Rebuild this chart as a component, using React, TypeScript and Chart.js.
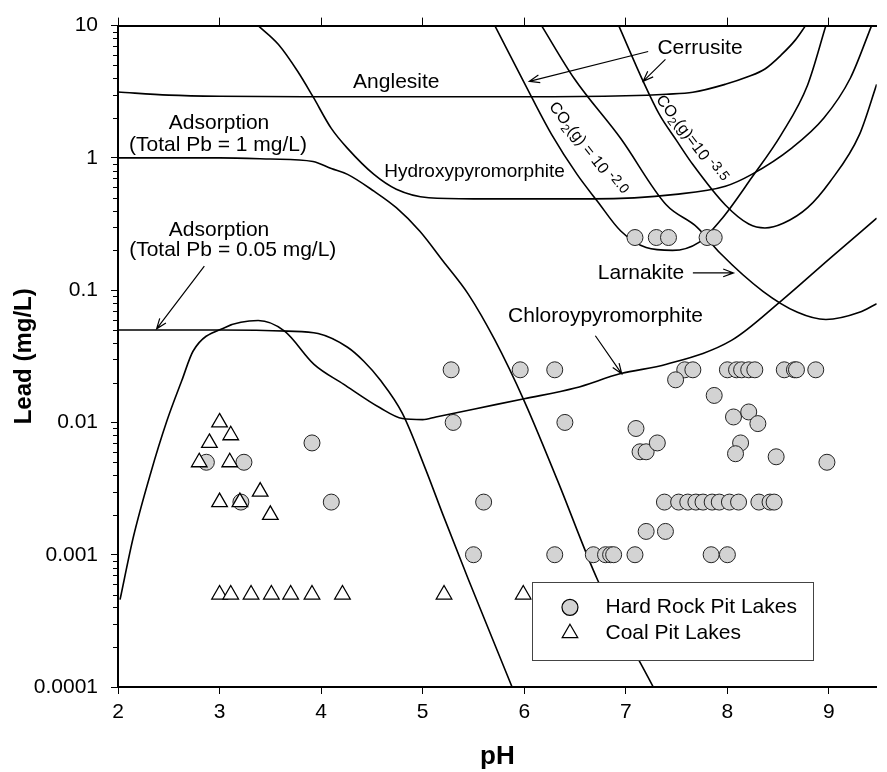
import React, { useEffect, useRef } from 'react';
import { Chart, registerables } from 'chart.js';

Chart.register(...registerables);

const FONT = '"Liberation Sans", Arial, Helvetica, sans-serif';

// ---- axis ticks ----
const xTickValues = [2, 3, 4, 5, 6, 7, 8, 9];
const yTickValues = [0.0001, 0.001, 0.01, 0.1, 1, 10];
const yTickLabels = ['0.0001', '0.001', '0.01', '0.1', '1', '10'];

// ---- observations ----
const hardRockPH = [
  7.09, 7.30, 7.42, 7.80, 7.87,
  5.28, 5.96, 6.30, 7.58, 7.66, 8.00, 8.09, 8.14, 8.21, 8.27, 8.56, 8.66, 8.68, 8.87,
  7.49, 7.87, 8.06, 8.21, 8.30, 7.10, 7.14, 7.20, 7.31, 8.13, 8.08, 8.48, 8.98, 5.30, 6.40,
  5.60, 7.38, 7.52, 7.61, 7.69, 7.76, 7.85, 7.92, 8.02, 8.11, 8.31, 8.42, 8.46,
  7.20, 7.39,
  5.50, 6.30, 6.68, 6.80, 6.85, 6.88, 7.09, 7.84, 8.00,
  2.87, 3.24, 3.91, 3.21, 4.10,
];
const hardRockPb = [
  0.25, 0.25, 0.25, 0.25, 0.25,
  0.025, 0.025, 0.025, 0.025, 0.025, 0.025, 0.025, 0.025, 0.025, 0.025, 0.025, 0.025, 0.025, 0.025,
  0.021, 0.016, 0.011, 0.012, 0.0098, 0.009, 0.006, 0.006, 0.007, 0.007, 0.0058, 0.0055, 0.005, 0.01, 0.01,
  0.0025, 0.0025, 0.0025, 0.0025, 0.0025, 0.0025, 0.0025, 0.0025, 0.0025, 0.0025, 0.0025, 0.0025, 0.0025,
  0.0015, 0.0015,
  0.001, 0.001, 0.001, 0.001, 0.001, 0.001, 0.001, 0.001, 0.001,
  0.005, 0.005, 0.007, 0.0025, 0.0025,
];
const coalPH = [3.0, 3.11, 2.9, 2.8, 3.1, 3.0, 3.2, 3.4, 3.5, 3.0, 3.11, 3.31, 3.51, 3.7, 3.91, 4.21, 5.21, 5.99];
const coalPb = [0.01, 0.008, 0.007, 0.005, 0.005, 0.0025, 0.0025, 0.003, 0.002, 0.0005, 0.0005, 0.0005, 0.0005, 0.0005, 0.0005, 0.0005, 0.0005, 0.0005];

// ---- solubility / adsorption curves ----
const anglesitePH = [2.0, 2.5, 3.0, 4.0, 5.0, 6.0, 7.0, 7.4, 7.66, 7.98, 8.2, 8.37, 8.53, 8.67, 8.77];
const anglesitePb = [3.15, 2.98, 2.92, 2.9, 2.9, 2.9, 2.95, 3.03, 3.13, 3.6, 4.1, 4.7, 6.0, 7.8, 10];

const hydroxyPH = [3.38, 3.58, 3.77, 3.92, 4.1, 4.26, 4.52, 4.74, 5.06, 5.5, 6.0, 6.68, 7.49, 7.98, 8.24, 8.63, 8.95, 9.21, 9.42];
const hydroxyPb = [10, 7.2, 4.5, 2.9, 1.67, 1.18, 0.75, 0.58, 0.5, 0.49, 0.49, 0.49, 0.53, 0.61, 0.75, 1.18, 2.0, 4.0, 10];

const ads1PH = [2.0, 3.0, 3.5, 3.92, 4.1, 4.26, 4.52, 4.74, 4.97, 5.2, 5.45, 5.71, 6.0, 6.33, 6.72, 7.27];
const ads1Pb = [1.0, 1.0, 0.98, 0.94, 0.83, 0.75, 0.56, 0.42, 0.28, 0.166, 0.093, 0.042, 0.0145, 0.0036, 0.00065, 0.0001];

const ads005PH = [2.0, 3.0, 3.67, 3.97, 4.26, 4.42, 4.58, 4.8, 5.03, 5.2, 5.45, 5.88];
const ads005Pb = [0.05, 0.05, 0.049, 0.047, 0.037, 0.029, 0.021, 0.0117, 0.0044, 0.002, 0.00065, 0.0001];

const chloroPH = [2.02, 2.15, 2.32, 2.48, 2.63, 2.74, 3.06, 3.38, 3.64, 3.93, 4.22, 4.58, 4.8, 5.0, 5.13, 5.5, 6.0, 6.5, 6.95, 7.4, 8.04, 8.53, 9.01, 9.47];
const chloroPb = [0.000457, 0.00135, 0.0041, 0.0102, 0.0209, 0.0347, 0.0525, 0.0589, 0.049, 0.0275, 0.0195, 0.0129, 0.0107, 0.0105, 0.011, 0.0126, 0.0151, 0.0182, 0.0234, 0.0275, 0.0417, 0.083, 0.174, 0.35];

const cerrusite2PH = [5.71, 6.07, 6.27, 6.52, 6.72, 6.95, 7.2, 7.46, 7.72, 7.95, 8.24, 8.53, 8.79, 8.97];
const cerrusite2Pb = [10, 2.9, 1.5, 0.75, 0.47, 0.28, 0.21, 0.2, 0.23, 0.35, 0.71, 1.5, 3.56, 10];

const cerrusite35PH = [6.93, 7.17, 7.33, 7.5, 7.66, 7.98, 8.21, 8.37, 8.55, 8.79, 9.01, 9.3, 9.47];
const cerrusite35Pb = [10, 3.8, 2.13, 1.35, 0.89, 0.44, 0.316, 0.295, 0.32, 0.42, 0.66, 1.5, 3.6];

const larnakitePH = [6.17, 6.49, 6.95, 7.4, 7.7, 7.93, 8.35, 8.69, 8.97, 9.3, 9.47];
const larnakitePb = [10, 4.0, 1.4, 0.44, 0.3, 0.19, 0.098, 0.068, 0.06, 0.068, 0.079];

const toPts = (xs: number[], ys: number[]) => xs.map((x, i) => ({ x, y: ys[i] }));

// ---- annotation texts (data coordinates: pH, Pb) ----
const textLabels: { t: string; x: number; y: number; size: number }[] = [
  { t: 'Anglesite', x: 4.74, y: 3.72, size: 21 },
  { t: 'Cerrusite', x: 7.73, y: 6.7, size: 21 },
  { t: 'Adsorption', x: 2.995, y: 1.82, size: 21 },
  { t: '(Total Pb = 1 mg/L)', x: 2.985, y: 1.245, size: 21 },
  { t: 'Adsorption', x: 2.995, y: 0.284, size: 21 },
  { t: '(Total Pb = 0.05 mg/L)', x: 3.13, y: 0.201, size: 21 },
  { t: 'Hydroxypyromorphite', x: 5.51, y: 0.79, size: 19 },
  { t: 'Larnakite', x: 7.15, y: 0.135, size: 21 },
  { t: 'Chloroypyromorphite', x: 6.8, y: 0.0638, size: 21 },
];
const arrowLines: number[][] = [
  [7.22, 6.37, 6.05, 3.79],
  [7.39, 5.55, 7.17, 3.79],
  [2.85, 0.152, 2.38, 0.051],
  [7.66, 0.135, 8.06, 0.135],
  [6.7, 0.0452, 6.96, 0.0233],
];
const co2Labels = [
  { x: 6.62, y: 1.16, angle: 52, mid: '(g) = 10 ', exp: '-2.0' },
  { x: 7.64, y: 1.38, angle: 53, mid: '(g)=10 ', exp: '-3.5' },
];
const legendBox = { x1: 6.073, x2: 8.84, y1: 0.00062, y2: 0.00016 };
const legendRows = [
  { label: 'Hard Rock Pit Lakes', y: 0.0004, shape: 'circle' },
  { label: 'Coal Pit Lakes', y: 0.000255, shape: 'triangle' },
];
const legendMarkerX = 6.45;
const legendTextX = 6.8;

const CIRCLE_FILL = '#d3d3d3';

function drawArrow(ctx: CanvasRenderingContext2D, x1: number, y1: number, x2: number, y2: number) {
  ctx.beginPath();
  ctx.moveTo(x1, y1);
  ctx.lineTo(x2, y2);
  const a = Math.atan2(y2 - y1, x2 - x1);
  const L = 11;
  const w = 0.36;
  ctx.moveTo(x2 - L * Math.cos(a - w), y2 - L * Math.sin(a - w));
  ctx.lineTo(x2, y2);
  ctx.lineTo(x2 - L * Math.cos(a + w), y2 - L * Math.sin(a + w));
  ctx.stroke();
}

const annotationPlugin = {
  id: 'pitLakeAnnotations',
  afterDatasetsDraw(chart: any) {
    const { ctx, chartArea } = chart;
    const xs = chart.scales.x;
    const ys = chart.scales.y;
    const px = (v: number) => xs.getPixelForValue(v);
    const py = (v: number) => ys.getPixelForValue(v);
    ctx.save();

    // minor log ticks on y axis
    ctx.strokeStyle = '#000';
    ctx.lineWidth = 1;
    ctx.beginPath();
    for (let d = -4; d <= 0; d++) {
      for (let k = 2; k <= 9; k++) {
        const yy = Math.round(py(k * Math.pow(10, d))) + 0.5;
        ctx.moveTo(chartArea.left - 5, yy);
        ctx.lineTo(chartArea.left, yy);
      }
    }
    ctx.stroke();

    // text labels
    ctx.fillStyle = '#000';
    ctx.textAlign = 'center';
    ctx.textBaseline = 'middle';
    textLabels.forEach((l) => {
      ctx.font = `${l.size}px ${FONT}`;
      ctx.fillText(l.t, px(l.x), py(l.y));
    });

    // arrows
    ctx.lineWidth = 1.2;
    arrowLines.forEach((a) => drawArrow(ctx, px(a[0]), py(a[1]), px(a[2]), py(a[3])));

    // rotated CO2 labels
    co2Labels.forEach((c) => {
      const parts = [
        { t: 'CO', s: 16, dy: 0 },
        { t: '2', s: 12, dy: 5 },
        { t: c.mid, s: 16, dy: 0 },
        { t: c.exp, s: 14, dy: -4 },
      ];
      let total = 0;
      parts.forEach((p) => {
        ctx.font = `${p.s}px ${FONT}`;
        total += ctx.measureText(p.t).width;
      });
      ctx.save();
      ctx.translate(px(c.x), py(c.y));
      ctx.rotate((c.angle * Math.PI) / 180);
      ctx.textAlign = 'left';
      let cx = -total / 2;
      parts.forEach((p) => {
        ctx.font = `${p.s}px ${FONT}`;
        ctx.fillText(p.t, cx, p.dy);
        cx += ctx.measureText(p.t).width;
      });
      ctx.restore();
    });

    // legend
    const lx1 = px(legendBox.x1);
    const lx2 = px(legendBox.x2);
    const ly1 = py(legendBox.y1);
    const ly2 = py(legendBox.y2);
    ctx.fillStyle = '#fff';
    ctx.fillRect(lx1, ly1, lx2 - lx1, ly2 - ly1);
    ctx.strokeStyle = '#444';
    ctx.lineWidth = 1;
    ctx.strokeRect(Math.round(lx1) + 0.5, Math.round(ly1) + 0.5, Math.round(lx2 - lx1), Math.round(ly2 - ly1));
    legendRows.forEach((r) => {
      const mx = px(legendMarkerX);
      const my = py(r.y);
      ctx.beginPath();
      if (r.shape === 'circle') {
        ctx.arc(mx, my, 8, 0, Math.PI * 2);
        ctx.fillStyle = CIRCLE_FILL;
      } else {
        const R = 9;
        for (let i = 0; i < 3; i++) {
          const ang = (i * 2 * Math.PI) / 3;
          const vx = mx + Math.sin(ang) * R;
          const vy = my - Math.cos(ang) * R;
          if (i === 0) ctx.moveTo(vx, vy);
          else ctx.lineTo(vx, vy);
        }
        ctx.closePath();
        ctx.fillStyle = '#fff';
      }
      ctx.fill();
      ctx.strokeStyle = '#000';
      ctx.lineWidth = 1.2;
      ctx.stroke();
      ctx.fillStyle = '#000';
      ctx.font = `21px ${FONT}`;
      ctx.textAlign = 'left';
      ctx.textBaseline = 'middle';
      ctx.fillText(r.label, px(legendTextX), my);
    });

    ctx.restore();
  },
};

const curveStyle = {
  type: 'line' as const,
  borderColor: '#000',
  borderWidth: 1.6,
  pointRadius: 0,
  fill: false,
  cubicInterpolationMode: 'monotone' as const,
  order: 2,
};

export default function App() {
  const ref = useRef<HTMLCanvasElement>(null);

  useEffect(() => {
    if (!ref.current) return;
    Chart.defaults.font.family = FONT;
    const chart = new Chart(ref.current, {
      type: 'scatter',
      data: {
        datasets: [
          { ...curveStyle, label: 'Anglesite', data: toPts(anglesitePH, anglesitePb) },
          { ...curveStyle, label: 'Hydroxypyromorphite', data: toPts(hydroxyPH, hydroxyPb) },
          { ...curveStyle, label: 'Adsorption 1 mg/L', data: toPts(ads1PH, ads1Pb) },
          { ...curveStyle, label: 'Adsorption 0.05 mg/L', data: toPts(ads005PH, ads005Pb) },
          { ...curveStyle, label: 'Chloropyromorphite', data: toPts(chloroPH, chloroPb) },
          { ...curveStyle, label: 'Cerrusite CO2 10^-2.0', data: toPts(cerrusite2PH, cerrusite2Pb) },
          { ...curveStyle, label: 'Cerrusite CO2 10^-3.5', data: toPts(cerrusite35PH, cerrusite35Pb) },
          { ...curveStyle, label: 'Larnakite', data: toPts(larnakitePH, larnakitePb) },
          {
            type: 'scatter',
            label: 'Hard Rock Pit Lakes',
            data: toPts(hardRockPH, hardRockPb),
            pointStyle: 'circle',
            pointRadius: 8,
            backgroundColor: CIRCLE_FILL,
            borderColor: '#222',
            borderWidth: 1,
            order: 1,
          },
          {
            type: 'scatter',
            label: 'Coal Pit Lakes',
            data: toPts(coalPH, coalPb),
            pointStyle: 'triangle',
            pointRadius: 9,
            backgroundColor: '#fff',
            borderColor: '#000',
            borderWidth: 1.3,
            order: 0,
          },
        ] as any,
      },
      options: {
        responsive: false,
        animation: false,
        devicePixelRatio: 1,
        layout: { padding: 0 },
        plugins: {
          legend: { display: false },
          tooltip: { enabled: false },
        },
        scales: {
          x: {
            type: 'linear',
            position: 'bottom',
            min: 2,
            max: 9.47,
            afterBuildTicks: (s: any) => {
              s.ticks = xTickValues.map((v) => ({ value: v }));
            },
            afterFit: (s: any) => {
              s.height = 85;
            },
            ticks: {
              color: '#000',
              font: { size: 21 },
              padding: 6,
              maxRotation: 0,
              autoSkip: false,
              callback: (v: any) => String(v),
            },
            grid: { drawOnChartArea: false, drawTicks: true, tickLength: 7, tickColor: '#000', tickWidth: 1 },
            border: { display: true, color: '#000', width: 2 },
            title: {
              display: true,
              text: 'pH',
              color: '#000',
              font: { size: 26, weight: 'bold' },
              padding: { top: 0, bottom: 0 },
            },
          },
          xTop: {
            type: 'linear',
            position: 'top',
            min: 2,
            max: 9.47,
            afterBuildTicks: (s: any) => {
              s.ticks = xTickValues.map((v) => ({ value: v }));
            },
            afterFit: (s: any) => {
              s.height = 24;
            },
            ticks: { display: false },
            grid: { drawOnChartArea: false, drawTicks: true, tickLength: 8, tickColor: '#000', tickWidth: 1 },
            border: { display: true, color: '#000', width: 2 },
          },
          y: {
            type: 'logarithmic',
            position: 'left',
            min: 0.0001,
            max: 10,
            afterBuildTicks: (s: any) => {
              s.ticks = yTickValues.map((v) => ({ value: v, major: true }));
            },
            afterFit: (s: any) => {
              s.width = 118;
            },
            ticks: {
              color: '#000',
              font: { size: 21 },
              padding: 13,
              autoSkip: false,
              callback: (_v: any, i: number) => yTickLabels[i],
            },
            grid: { drawOnChartArea: false, drawTicks: true, tickLength: 7, tickColor: '#000', tickWidth: 1 },
            border: { display: true, color: '#000', width: 2 },
            title: {
              display: true,
              text: 'Lead (mg/L)',
              color: '#000',
              font: { size: 24, weight: 'bold' },
              padding: { top: 10, bottom: 0 },
            },
          },
        },
      } as any,
      plugins: [annotationPlugin],
    });
    return () => chart.destroy();
  }, []);

  return (
    <div style={{ position: 'fixed', left: 0, top: 0, width: 887, height: 772, background: '#fff' }}>
      <canvas ref={ref} width={887} height={772} style={{ display: 'block', width: 887, height: 772 }} />
    </div>
  );
}
